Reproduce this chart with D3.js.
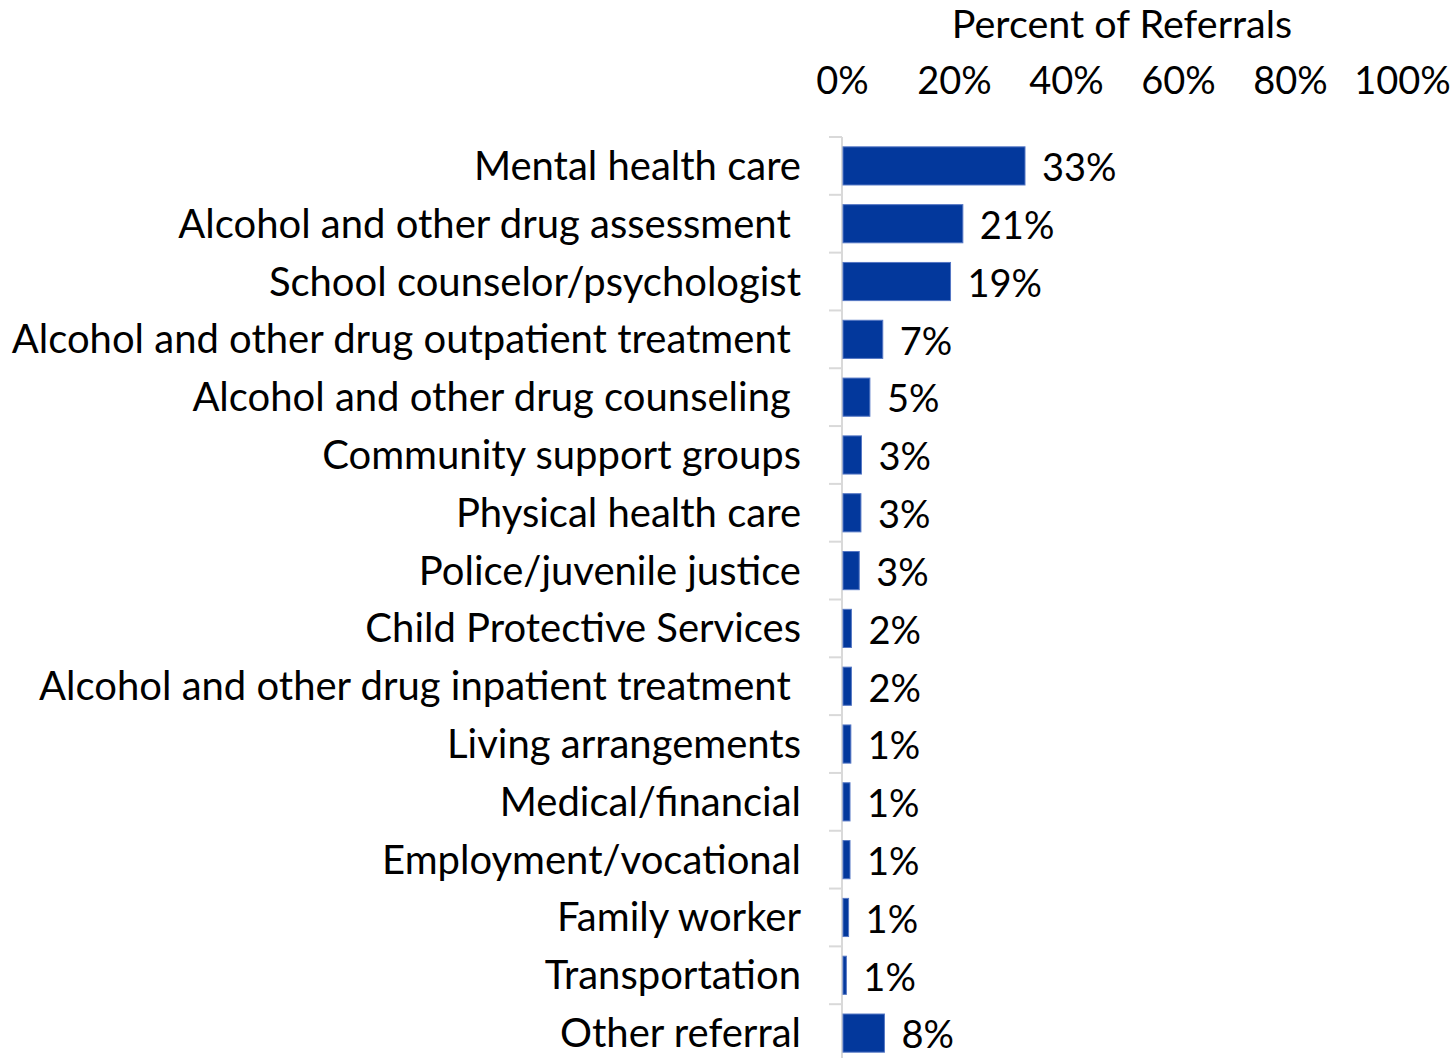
<!DOCTYPE html>
<html>
<head>
<meta charset="utf-8">
<script src="https://cdn.jsdelivr.net/npm/d3@7"></script>
<style>
  html, body { margin: 0; padding: 0; background: #fff; }
  svg { display: block; }
  text { font-family: Lato, "Open Sans", sans-serif; fill: #000; }
</style>
</head>
<body>
<svg id="chart" width="1455" height="1058"></svg>
<script>
const categories = [
  "Mental health care",
  "Alcohol and other drug assessment\u00a0",
  "School counselor/psychologist",
  "Alcohol and other drug outpatient treatment\u00a0",
  "Alcohol and other drug counseling\u00a0",
  "Community support groups",
  "Physical health care",
  "Police/juvenile justice",
  "Child Protective Services",
  "Alcohol and other drug inpatient treatment\u00a0",
  "Living arrangements",
  "Medical/financial",
  "Employment/vocational",
  "Family worker",
  "Transportation",
  "Other referral"
];
const values = [32.5, 21.4, 19.2, 7.1, 4.8, 3.3, 3.2, 2.9, 1.5, 1.5, 1.4, 1.25, 1.25, 1.0, 0.6, 7.4];
const valueLabels = ["33%", "21%", "19%", "7%", "5%", "3%", "3%", "3%", "2%", "2%", "1%", "1%", "1%", "1%", "1%", "8%"];
const tickValues = [0, 20, 40, 60, 80, 100];
const axisTitle = "Percent of Referrals";

const svg = d3.select("#chart");
const FS = 38;
const FS_CAT = 40;

const x = d3.scaleLinear().domain([0, 100]).range([842, 1402]);
const y = d3.scaleBand().domain(categories).range([137, 1062]).paddingInner(0.34).paddingOuter(0.17);

// axis title
svg.append("text")
  .attr("x", x(50)).attr("y", 38)
  .attr("text-anchor", "middle")
  .style("font-size", "39.5px")
  .text(axisTitle);

// top axis tick labels
const xAxis = d3.axisTop(x).tickValues(tickValues).tickFormat(d => d + "%").tickSize(0).tickPadding(0);
const gx = svg.append("g").attr("transform", "translate(0,94)").call(xAxis);
gx.select(".domain").remove();
gx.selectAll("text")
  .style("font-size", FS + "px")
  .style("font-family", "Lato, 'Open Sans', sans-serif")
  .attr("fill", "#000")
  .attr("dy", 0);

// vertical axis line with ticks at band boundaries
const step = y.step();
const bounds = d3.range(categories.length + 1).map(i => 137 + i * step);
svg.append("line")
  .attr("x1", x(0)).attr("x2", x(0))
  .attr("y1", 137).attr("y2", 1058)
  .attr("stroke", "#d9d9d9").attr("stroke-width", 2);
svg.selectAll(".ytick").data(bounds).join("line")
  .attr("class", "ytick")
  .attr("x1", x(0) - 13).attr("x2", x(0))
  .attr("y1", d => d).attr("y2", d => d)
  .attr("stroke", "#d9d9d9").attr("stroke-width", 2);

// bars
svg.selectAll(".bar").data(values).join("rect")
  .attr("class", "bar")
  .attr("x", x(0) + 1)
  .attr("y", (d, i) => y(categories[i]))
  .attr("width", d => x(d) - x(0))
  .attr("height", y.bandwidth())
  .attr("fill", "#03389c")
  .attr("stroke", "#5577c4")
  .attr("stroke-width", 1);

// category labels
svg.selectAll(".cat").data(categories).join("text")
  .attr("class", "cat")
  .attr("x", 801)
  .attr("y", d => y(d) + y.bandwidth() / 2)
  .attr("dy", "0.35em")
  .attr("text-anchor", "end")
  .style("font-size", FS_CAT + "px")
  .style("white-space", "pre")
  .text(d => d);

// value labels
svg.selectAll(".val").data(values).join("text")
  .attr("class", "val")
  .attr("x", d => x(d) + 18)
  .attr("y", (d, i) => y(categories[i]) + y.bandwidth() / 2 + 2)
  .attr("dy", "0.35em")
  .style("font-size", FS + "px")
  .text((d, i) => valueLabels[i]);
</script>
</body>
</html>
